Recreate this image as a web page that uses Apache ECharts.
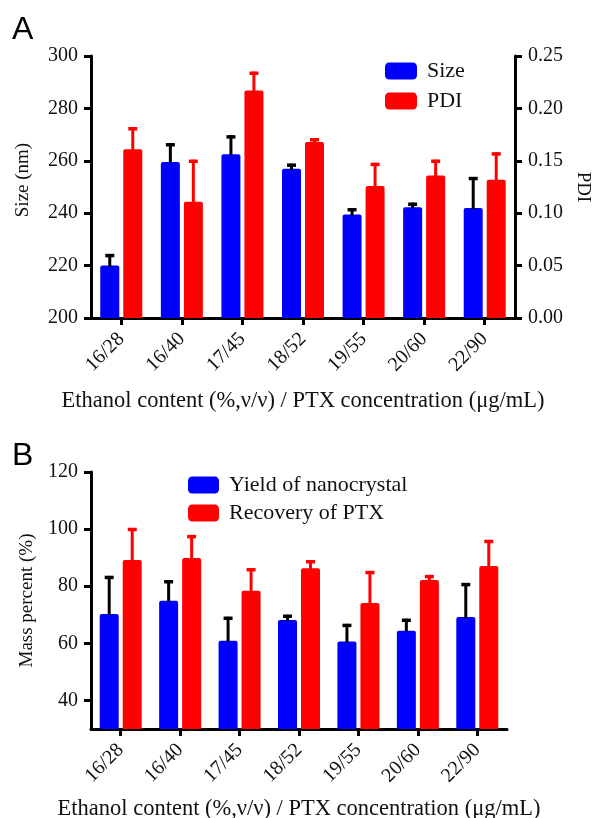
<!DOCTYPE html>
<html>
<head>
<meta charset="utf-8">
<script src="https://cdn.jsdelivr.net/npm/echarts@6/dist/echarts.min.js"></script>
<style>
html,body{margin:0;padding:0;background:#fff;}
#chart{width:592px;height:818px;}
</style>
</head>
<body>
<div id="chart"></div>
<script>
// ---- Data ----
const categories = ['16/28', '16/40', '17/45', '18/52', '19/55', '20/60', '22/90'];

// Panel A
const sizeMean = [220.0, 259.5, 262.5, 257.0, 239.5, 242.3, 242.0];
const sizeSD   = [4.4, 7.2, 7.2, 1.9, 2.4, 1.7, 11.8];
const pdiMean  = [0.161, 0.111, 0.217, 0.168, 0.126, 0.136, 0.132];
const pdiSD    = [0.021, 0.040, 0.018, 0.0035, 0.022, 0.015, 0.026];

// Panel B
const yieldMean    = [70.3, 74.9, 60.9, 68.2, 60.6, 64.4, 69.2];
const yieldSD      = [13.3, 7.2, 8.4, 1.8, 6.2, 4.2, 11.9];
const recoveryMean = [89.2, 89.9, 78.4, 86.3, 74.1, 82.2, 87.1];
const recoverySD   = [11.2, 8.0, 7.9, 2.8, 11.2, 1.7, 9.1];

// Axis tick labels
const sizeTicks = [200, 220, 240, 260, 280, 300];
const pdiTicks = [0.00, 0.05, 0.10, 0.15, 0.20, 0.25];
const massTicks = [40, 60, 80, 100, 120];

const xTitle = 'Ethanol content (%,ν/ν) / PTX concentration (μg/mL)';

// ---- Styling ----
const SERIF = '"Liberation Serif", "Times New Roman", serif';
const BLUE = '#0000FF';
const RED = '#FF0000';
const BAR_W = 19;
const BAR_GAP_PX = 4;
const HALF = (BAR_W + BAR_GAP_PX) / 2;

function errData(mean, sd) {
  return mean.map((m, i) => [i, m, m + sd[i]]);
}
function errRender(side, color) {
  return function (params, api) {
    const i = api.value(0);
    const p0 = api.coord([i, api.value(1)]);
    const p1 = api.coord([i, api.value(2)]);
    const x = p0[0] + side * HALF;
    return {
      type: 'group',
      children: [
        { type: 'line', shape: { x1: x, y1: p0[1] + 1, x2: x, y2: p1[1] }, style: { stroke: color, lineWidth: 3 } },
        { type: 'line', shape: { x1: x - 4.5, y1: p1[1] + 1.5, x2: x + 4.5, y2: p1[1] + 1.5 }, style: { stroke: color, lineWidth: 3.5 } }
      ]
    };
  };
}

const axisLineStyle = { show: true, lineStyle: { color: '#000', width: 3 } };
const tickStyle = { show: true, inside: false, length: 7, lineStyle: { color: '#000', width: 3 } };

function catAxis(gridIndex, nameGap) {
  return {
    type: 'category', gridIndex, data: categories,
    axisLine: axisLineStyle,
    axisTick: Object.assign({ alignWithLabel: true }, tickStyle),
    axisLabel: { rotate: 45, margin: 18, fontFamily: SERIF, fontSize: 20, color: '#111' },
    name: xTitle, nameLocation: 'middle', nameGap,
    nameTextStyle: { fontFamily: SERIF, fontSize: 22.5, color: '#111' }
  };
}

const chart = echarts.init(document.getElementById('chart'), null, { renderer: 'canvas' });

const option = {
  backgroundColor: '#fff',
  animation: false,
  graphic: [
    { type: 'text', left: 12, top: 14, style: { text: 'A', font: '32px "Liberation Sans", Arial, sans-serif', fill: '#000' } },
    { type: 'text', left: 12, top: 440, style: { text: 'B', font: '32px "Liberation Sans", Arial, sans-serif', fill: '#000' } }
  ],
  legend: [
    {
      data: ['Size', 'PDI'], orient: 'vertical', left: 380, top: 55,
      itemWidth: 32, itemHeight: 17, itemGap: 8, icon: 'roundRect',
      textStyle: { fontFamily: SERIF, fontSize: 22, color: '#111', lineHeight: 17, padding: [0, 0, 0, 5] }
    },
    {
      data: ['Yield of nanocrystal', 'Recovery of PTX'], orient: 'vertical', left: 183, top: 469,
      itemWidth: 31, itemHeight: 17, itemGap: 6, icon: 'roundRect',
      textStyle: { fontFamily: SERIF, fontSize: 22, color: '#111', lineHeight: 17, padding: [0, 0, 0, 5] }
    }
  ],
  grid: [
    { left: 91, right: 77, top: 56, height: 262, containLabel: false, outerBoundsMode: 'none' },
    { left: 91, right: 85, top: 472, height: 257, containLabel: false, outerBoundsMode: 'none' }
  ],
  xAxis: [catAxis(0, 72), catAxis(1, 69)],
  yAxis: [
    {
      type: 'value', gridIndex: 0, min: sizeTicks[0], max: sizeTicks[sizeTicks.length - 1], interval: 20,
      axisLine: axisLineStyle, axisTick: tickStyle, splitLine: { show: false },
      axisLabel: { margin: 13, fontFamily: SERIF, fontSize: 20, color: '#111' },
      name: 'Size (nm)', nameLocation: 'middle', nameGap: 58,
      nameTextStyle: { fontFamily: SERIF, fontSize: 19, color: '#111', padding: [0, 0, 0, 14] }
    },
    {
      type: 'value', gridIndex: 0, position: 'right', min: pdiTicks[0], max: pdiTicks[pdiTicks.length - 1], interval: 0.05,
      axisLine: axisLineStyle, axisTick: tickStyle, splitLine: { show: false },
      axisLabel: { margin: 13, fontFamily: SERIF, fontSize: 20, color: '#111', formatter: v => v.toFixed(2) },
      name: 'PDI', nameLocation: 'middle', nameGap: 55, nameRotate: -90,
      nameTextStyle: { fontFamily: SERIF, fontSize: 19, color: '#111' }
    },
    {
      type: 'value', gridIndex: 1, min: 30, max: massTicks[massTicks.length - 1],
      axisLine: axisLineStyle,
      axisTick: Object.assign({ customValues: massTicks }, tickStyle),
      splitLine: { show: false },
      axisLabel: { customValues: massTicks, margin: 13, fontFamily: SERIF, fontSize: 20, color: '#111' },
      name: 'Mass percent (%)', nameLocation: 'middle', nameGap: 54,
      nameTextStyle: { fontFamily: SERIF, fontSize: 19, color: '#111' }
    }
  ],
  series: [
    {
      name: 'Size', type: 'bar', xAxisIndex: 0, yAxisIndex: 0, data: sizeMean,
      barWidth: BAR_W, barGap: (BAR_GAP_PX / BAR_W * 100) + '%',
      itemStyle: { color: BLUE, borderRadius: [2, 2, 0, 0] }
    },
    {
      name: 'PDI', type: 'bar', xAxisIndex: 0, yAxisIndex: 1, data: pdiMean,
      barWidth: BAR_W, barGap: (BAR_GAP_PX / BAR_W * 100) + '%',
      itemStyle: { color: RED, borderRadius: [2, 2, 0, 0] }
    },
    {
      name: 'sizeErr', type: 'custom', xAxisIndex: 0, yAxisIndex: 0, z: 3,
      data: errData(sizeMean, sizeSD), renderItem: errRender(-1, '#000'), silent: true
    },
    {
      name: 'pdiErr', type: 'custom', xAxisIndex: 0, yAxisIndex: 1, z: 3,
      data: errData(pdiMean, pdiSD), renderItem: errRender(1, RED), silent: true
    },
    {
      name: 'Yield of nanocrystal', type: 'bar', xAxisIndex: 1, yAxisIndex: 2, data: yieldMean,
      barWidth: BAR_W, barGap: (BAR_GAP_PX / BAR_W * 100) + '%',
      itemStyle: { color: BLUE, borderRadius: [2, 2, 0, 0] }
    },
    {
      name: 'Recovery of PTX', type: 'bar', xAxisIndex: 1, yAxisIndex: 2, data: recoveryMean,
      barWidth: BAR_W, barGap: (BAR_GAP_PX / BAR_W * 100) + '%',
      itemStyle: { color: RED, borderRadius: [2, 2, 0, 0] }
    },
    {
      name: 'yieldErr', type: 'custom', xAxisIndex: 1, yAxisIndex: 2, z: 3,
      data: errData(yieldMean, yieldSD), renderItem: errRender(-1, '#000'), silent: true
    },
    {
      name: 'recErr', type: 'custom', xAxisIndex: 1, yAxisIndex: 2, z: 3,
      data: errData(recoveryMean, recoverySD), renderItem: errRender(1, RED), silent: true
    }
  ]
};
chart.setOption(option);
</script>
</body>
</html>
